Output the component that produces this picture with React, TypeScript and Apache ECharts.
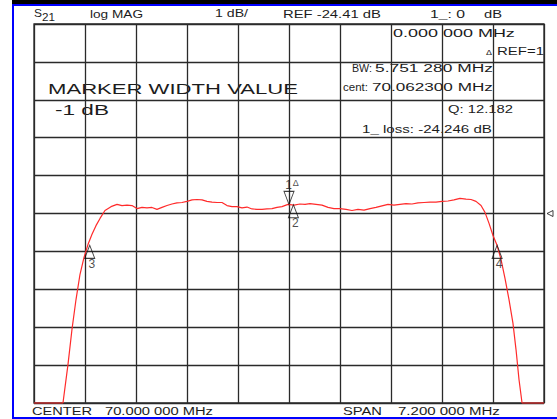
import React, { useEffect, useRef } from "react";
import * as echarts from "echarts";

// ---- instrument settings ----
const CENTER_MHZ = 70.0;
const SPAN_MHZ = 7.2;
const REF_DB = -24.41;
const SCALE_DB_PER_DIV = 1;
const DIVS = 10;

// ---- trace (frequency offset from centre, MHz) and S21 (dB) ----
const traceFreqOffset = [
  -3.6, -3.191, -3.12, -3.064, -3.007, -2.951, -2.894, -2.838, -2.781, -2.725,
  -2.668, -2.598, -2.513, -2.428, -2.358, -2.287, -2.217, -2.146, -2.075, -2.005,
  -1.934, -1.864, -1.793, -1.722, -1.652, -1.581, -1.511, -1.44, -1.369, -1.299,
  -1.228, -1.158, -1.087, -1.016, -0.946, -0.875, -0.805, -0.734, -0.664, -0.593,
  -0.522, -0.452, -0.381, -0.311, -0.24, -0.169, -0.099, -0.014, 0.071, 0.155,
  0.226, 0.296, 0.381, 0.466, 0.551, 0.635, 0.72, 0.805, 0.889, 0.974,
  1.059, 1.144, 1.228, 1.313, 1.398, 1.482, 1.567, 1.652, 1.736, 1.821,
  1.906, 1.991, 2.075, 2.16, 2.245, 2.329, 2.414, 2.499, 2.57, 2.64,
  2.711, 2.767, 2.824, 2.88, 2.937, 2.993, 3.05, 3.106, 3.162, 3.205,
  3.247, 3.29, 3.6,
];
const traceDb = [
  -29.41, -29.41, -28.39, -27.47, -26.68, -26.02, -25.57, -25.23, -24.96, -24.73,
  -24.54, -24.33, -24.23, -24.17, -24.2, -24.19, -24.2, -24.28, -24.25, -24.26,
  -24.25, -24.3, -24.25, -24.2, -24.16, -24.13, -24.12, -24.09, -24.05, -24.04,
  -24.05, -24.09, -24.11, -24.12, -24.12, -24.2, -24.23, -24.23, -24.26, -24.24,
  -24.29, -24.3, -24.3, -24.29, -24.28, -24.25, -24.23, -24.17, -24.19, -24.16,
  -24.17, -24.15, -24.17, -24.19, -24.25, -24.28, -24.28, -24.3, -24.33, -24.3,
  -24.32, -24.28, -24.25, -24.21, -24.17, -24.19, -24.17, -24.15, -24.16, -24.13,
  -24.12, -24.11, -24.11, -24.09, -24.08, -24.05, -24.01, -24.03, -24.04, -24.09,
  -24.2, -24.38, -24.67, -24.99, -25.25, -25.62, -26.13, -26.68, -27.31, -28.0,
  -28.79, -29.41, -29.41,
];

// ---- markers ----
const markerIds = ["1", "2", "3", "4"];
const markerFreqOffset = [0.0, 0.0623, -2.8133, 2.938];
const markerDb = [-24.17, -24.18, -25.25, -25.25];

// ---- readouts ----
const markerWidthDb = -1;
const bwMHz = "5.751 280";
const centMHz = "70.062300";
const qValue = "12.182";
const lossDb = "-24.246";
const deltaFreq = "0.000 000";

const FONT = '"Liberation Sans", Arial, Helvetica, sans-serif';
const TXT = "#1c1c1c";

function fmtMHz(v: number) {
  const s = v.toFixed(6);
  const [i, f] = s.split(".");
  return `${i}.${f.slice(0, 3)} ${f.slice(3)}`;
}

let measureCtx: CanvasRenderingContext2D | null = null;
function measure(text: string, size: number) {
  if (!measureCtx) measureCtx = document.createElement("canvas").getContext("2d");
  measureCtx!.font = `${size}px "Liberation Sans"`;
  return measureCtx!.measureText(text).width || 1;
}

function fitText(text: string, left: number, cy: number, width: number, size: number, color = TXT) {
  return {
    type: "text",
    x: left,
    y: cy,
    scaleX: width / measure(text, size),
    silent: true,
    style: {
      text,
      x: 0,
      y: 0,
      fontSize: size,
      fontFamily: FONT,
      fill: color,
      verticalAlign: "middle",
      align: "left",
    },
  };
}

export default function App() {
  const ref = useRef<HTMLDivElement>(null);
  useEffect(() => {
    if (!ref.current) return;
    const chart = echarts.init(ref.current, undefined, { renderer: "svg" });
    const rel = (v: number) => Math.round((v - REF_DB) * 1000) / 1000;
    const half = (SCALE_DB_PER_DIV * DIVS) / 2;
    const traceData = traceFreqOffset.map((f, i) => [f, rel(traceDb[i])]);
    const markerData = markerIds.map((id, i) => {
      const isRef = i === 0;
      return {
        value: [markerFreqOffset[i], rel(markerDb[i])],
        symbol: isRef ? "path://M0,0 L10,0 L5,13 Z" : "path://M5,0 L10,13 L0,13 Z",
        symbolSize: [10, 13],
        symbolOffset: isRef ? [0, -6.5] : [0, 6.5],
        label: isRef
          ? {
              show: true,
              position: "top",
              distance: -1,
              offset: [3, 0],
              formatter: `{a|${id}}{b|Δ}`,
              rich: {
                a: { fontSize: 12, fontFamily: FONT, color: TXT },
                b: { fontSize: 9, fontFamily: FONT, color: TXT, padding: [0, 0, 4, 1] },
              },
            }
          : {
              show: true,
              position: "bottom",
              distance: -1,
              offset: [2, 0],
              formatter: id,
              fontSize: 12,
              fontFamily: FONT,
              color: TXT,
            },
      };
    });

    const gLeft = 34, gTop = 24, gW = 510, gH = 379;

    chart.setOption({
      animation: false,
      backgroundColor: "#ffffff",
      textStyle: { fontFamily: FONT },
      grid: { left: gLeft, top: gTop, width: gW, height: gH, show: true, borderColor: "#2a2a2a", borderWidth: 1.3, backgroundColor: "transparent" },
      xAxis: {
        type: "value",
        min: -SPAN_MHZ / 2,
        max: SPAN_MHZ / 2,
        interval: SPAN_MHZ / DIVS,
        axisLine: { show: false },
        axisTick: { show: false },
        axisLabel: { show: false },
        splitLine: { show: true, lineStyle: { color: "#2a2a2a", width: 1.3 } },
      },
      yAxis: {
        type: "value",
        min: -half,
        max: half,
        interval: SCALE_DB_PER_DIV,
        axisLine: { show: false },
        axisTick: { show: false },
        axisLabel: { show: false },
        splitLine: { show: true, lineStyle: { color: "#2a2a2a", width: 1.3 } },
      },
      series: [
        {
          type: "line",
          data: traceData,
          showSymbol: false,
          clip: false,
          lineStyle: { color: "#ff2b2b", width: 1.2 },
          z: 3,
        },
        {
          type: "scatter",
          data: markerData,
          clip: false,
          itemStyle: { color: "rgba(0,0,0,0)", borderColor: "#111", borderWidth: 1 },
          z: 4,
        },
        {
          type: "scatter",
          data: [[SPAN_MHZ / 2, 0]],
          clip: false,
          symbol: "triangle",
          symbolSize: [6, 6],
          symbolRotate: 90,
          symbolOffset: [6, 0],
          itemStyle: { color: "rgba(0,0,0,0)", borderColor: "#111", borderWidth: 1 },
          z: 4,
        },
      ],
      graphic: [
        // window frame
        { type: "rect", silent: true, shape: { x: 12, y: 0, width: 545, height: 4 }, style: { fill: "#000" } },
        { type: "rect", silent: true, shape: { x: 12, y: 4, width: 545, height: 2 }, style: { fill: "#0000ff" } },
        { type: "rect", silent: true, shape: { x: 12, y: 4, width: 2, height: 415 }, style: { fill: "#0000ff" } },
        { type: "rect", silent: true, shape: { x: 12, y: 417, width: 545, height: 2 }, style: { fill: "#0000ff" } },
        // header
        fitText("S", 34, 13, 8, 11),
        fitText("21", 42, 17, 13, 10),
        fitText("log MAG", 90, 14, 53, 11),
        fitText(`${SCALE_DB_PER_DIV} dB/`, 215, 14, 33, 11),
        fitText(`REF ${REF_DB} dB`, 283, 14, 98, 11),
        fitText("1_: 0", 430, 14, 35, 11),
        fitText("dB", 484, 14, 18, 11),
        // readouts
        fitText(`${deltaFreq} MHz`, 393, 33, 122, 11),
        fitText("Δ", 486, 52, 6, 8),
        fitText("REF=1", 497, 51, 47, 11),
        fitText("MARKER WIDTH VALUE", 48, 89, 250, 15),
        fitText(`${markerWidthDb} dB`, 55, 110, 54, 15),
        fitText("BW:", 352, 68, 20, 11),
        fitText(`${bwMHz} MHz`, 375, 68, 118, 11),
        fitText("cent:", 343, 87, 25, 11),
        fitText(`${centMHz} MHz`, 372, 87, 121, 11),
        fitText(`Q: ${qValue}`, 448, 109, 65, 11),
        fitText(`1_ loss: ${lossDb} dB`, 362, 129, 130, 11),
        // footer
        fitText("CENTER", 32, 411.5, 60, 11),
        fitText(`${fmtMHz(CENTER_MHZ)} MHz`, 105, 411.5, 108, 11),
        fitText("SPAN", 343, 411.5, 39, 11),
        fitText(`${fmtMHz(SPAN_MHZ)} MHz`, 398, 411.5, 102, 11),
      ],
    });
    return () => chart.dispose();
  }, []);
  return (
    <div
      ref={ref}
      style={{ position: "fixed", left: 0, top: 0, width: 557, height: 419, background: "#fff" }}
    />
  );
}
